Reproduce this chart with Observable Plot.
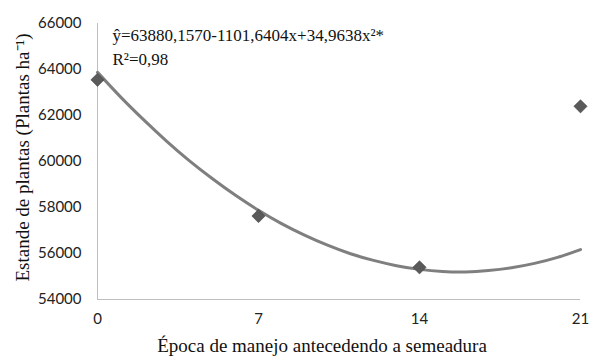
<!DOCTYPE html>
<html><head><meta charset="utf-8">
<script src="https://cdn.jsdelivr.net/npm/d3@7"></script>
<script src="https://cdn.jsdelivr.net/npm/@observablehq/plot@0.6"></script>
<style>
html,body{margin:0;padding:0;background:#fff;}
#chart{position:relative;width:590px;height:358px;}
.serif text{font-family:"Liberation Serif","Times New Roman",serif;}
</style>
</head><body>
<div id="chart"></div>
<script>
const epocas = [0, 7, 14, 21];
const estande = [63550, 57630, 55400, 62400];
const curvaX = [0,1,2,3,4,5,6,7,8,9,10,11,12,13,14,15,16,17,18,19,20,21];
const curvaY = [63880,62810,61820,60890,60030,59250,58530,57880,57300,56800,56360,55990,55700,55470,55310,55220,55200,55260,55380,55570,55830,56170];
const yTicks = [54000,56000,58000,60000,62000,64000,66000];
const xTicks = [0,7,14,21];
const equacao = "ŷ=63880,1570-1101,6404x+34,9638x²*";
const r2 = "R²=0,98";
const xTitulo = "Época de manejo antecedendo a semeadura";
const yTitulo = "Estande de plantas (Plantas ha⁻¹)";

const pts = epocas.map((x,i)=>({x, y: estande[i]}));
const curva = curvaX.map((x,i)=>({x, y: curvaY[i]}));
const serif = "Liberation Serif";

const plot = Plot.plot({
  width: 590, height: 358,
  marginLeft: 97, marginRight: 10, marginTop: 23, marginBottom: 59,
  style: {fontSize: "15px", color: "#222", background: "#fff"},
  x: {domain: [0, 21], ticks: xTicks, tickSize: 0, tickPadding: 14, label: null},
  y: {domain: [54000, 66000], ticks: yTicks, tickSize: 0, tickPadding: 15, label: null, tickFormat: d => String(d)},
  marks: [
    Plot.ruleX([0], {stroke: "#bfbfbf", strokeWidth: 1}),
    Plot.ruleY([54000], {stroke: "#bfbfbf", strokeWidth: 1}),
    Plot.line(curva, {x: "x", y: "y", curve: "natural", stroke: "#7f7f7f", strokeWidth: 3}),
    Plot.dot(pts, {x: "x", y: "y", symbol: "diamond2", r: 6, fill: "#5a5a5a", stroke: "#3f3f3f", strokeWidth: 0.5}),
    Plot.text([equacao], {frameAnchor: "top-left", dx: 15, dy: 5, text: d => d, textAnchor: "start", fontFamily: serif, fontSize: 17, fill: "#111", className: "serif"}),
    Plot.text([r2], {frameAnchor: "top-left", dx: 15, dy: 29, text: d => d, textAnchor: "start", fontFamily: serif, fontSize: 17, fill: "#111", className: "serif"}),
    Plot.axisX({ticks: xTicks, tickSize: 0, tickPadding: 14, label: null, fontSize: 15, fontFamily: "Lato"}),
    Plot.axisY({ticks: yTicks, tickSize: 0, tickPadding: 16, label: null, fontSize: 15, fontFamily: "Lato", tickFormat: d => String(d)}),
    Plot.text([xTitulo], {frameAnchor: "bottom", textAnchor: "middle", dx: -17, dy: 52, text: d => d, fontFamily: serif, fontSize: 19, fill: "#111", className: "serif"}),
    Plot.text([yTitulo], {frameAnchor: "left", textAnchor: "middle", lineAnchor: "middle", dx: -75, dy: -4, rotate: -90, text: d => d, fontFamily: serif, fontSize: 19, fill: "#111", className: "serif"})
  ]
});
document.getElementById("chart").appendChild(plot);
</script>
</body></html>
